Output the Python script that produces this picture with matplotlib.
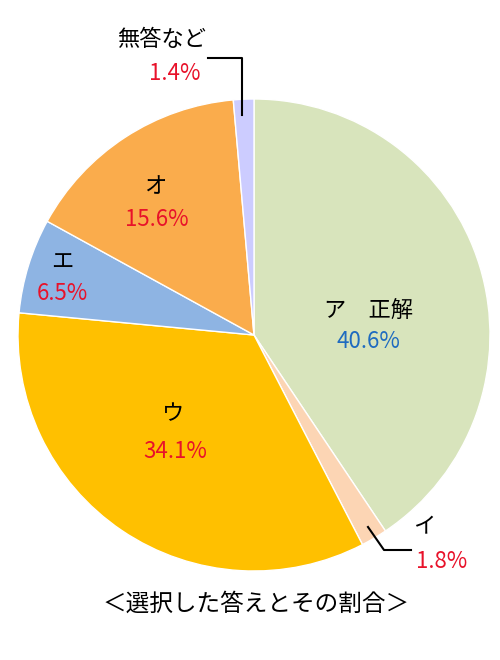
import matplotlib
matplotlib.use('Agg')
import matplotlib.pyplot as plt

plt.rcParams['font.family'] = ['Noto Sans CJK JP', 'DejaVu Sans']

# answer shares, clockwise from 12 o'clock
names = ['ア\u3000正解', 'イ', 'ウ', 'エ', 'オ', '無答など']
shares = [40.6, 1.8, 34.1, 6.5, 15.6, 1.4]
colors = ['#D8E4BC', '#FCD5B4', '#FFC000', '#8EB4E3', '#FAAC4C', '#CCCCFF']
pct_colors = ['#1F6BC0', '#E8122A', '#E8122A', '#E8122A', '#E8122A', '#E8122A']

# label positions in pixel coords (x, y of name; percent goes below)
label_pos = [(368, 310), (424, 527), (173, 414), (62, 262), (155, 187), (162, 40)]
pct_pos = [(368, 342), (442, 562), (175, 451), (62, 293), (157, 219), (175, 73)]

fig = plt.figure(figsize=(5, 6.6), dpi=100)
ax = fig.add_axes([0, 0, 1, 1])

ax.pie(shares, colors=colors, startangle=90, counterclock=False,
       center=(254, 660 - 335), radius=236, frame=True,
       wedgeprops={'edgecolor': 'white', 'linewidth': 1})

ax.set_xlim(0, 500)
ax.set_ylim(0, 660)
ax.set_aspect('equal')
ax.axis('off')

for name, (x, y) in zip(names, label_pos):
    ax.text(x, 660 - y, name, ha='center', va='center', fontsize=16, color='black')
for s, c, (x, y) in zip(shares, pct_colors, pct_pos):
    ax.text(x, 660 - y, f'{s}%', ha='center', va='center', fontsize=16, color=c)

# leader lines
ax.plot([242, 242, 208], [660 - 115, 660 - 58, 660 - 58], color='black', lw=1.5)
ax.plot([368, 384, 411], [660 - 527, 660 - 550, 660 - 550], color='black', lw=1.5)

ax.text(256, 660 - 604, '＜選択した答えとその割合＞', ha='center', va='center',
        fontsize=17, color='black')

fig.savefig('out.png', dpi=100)
